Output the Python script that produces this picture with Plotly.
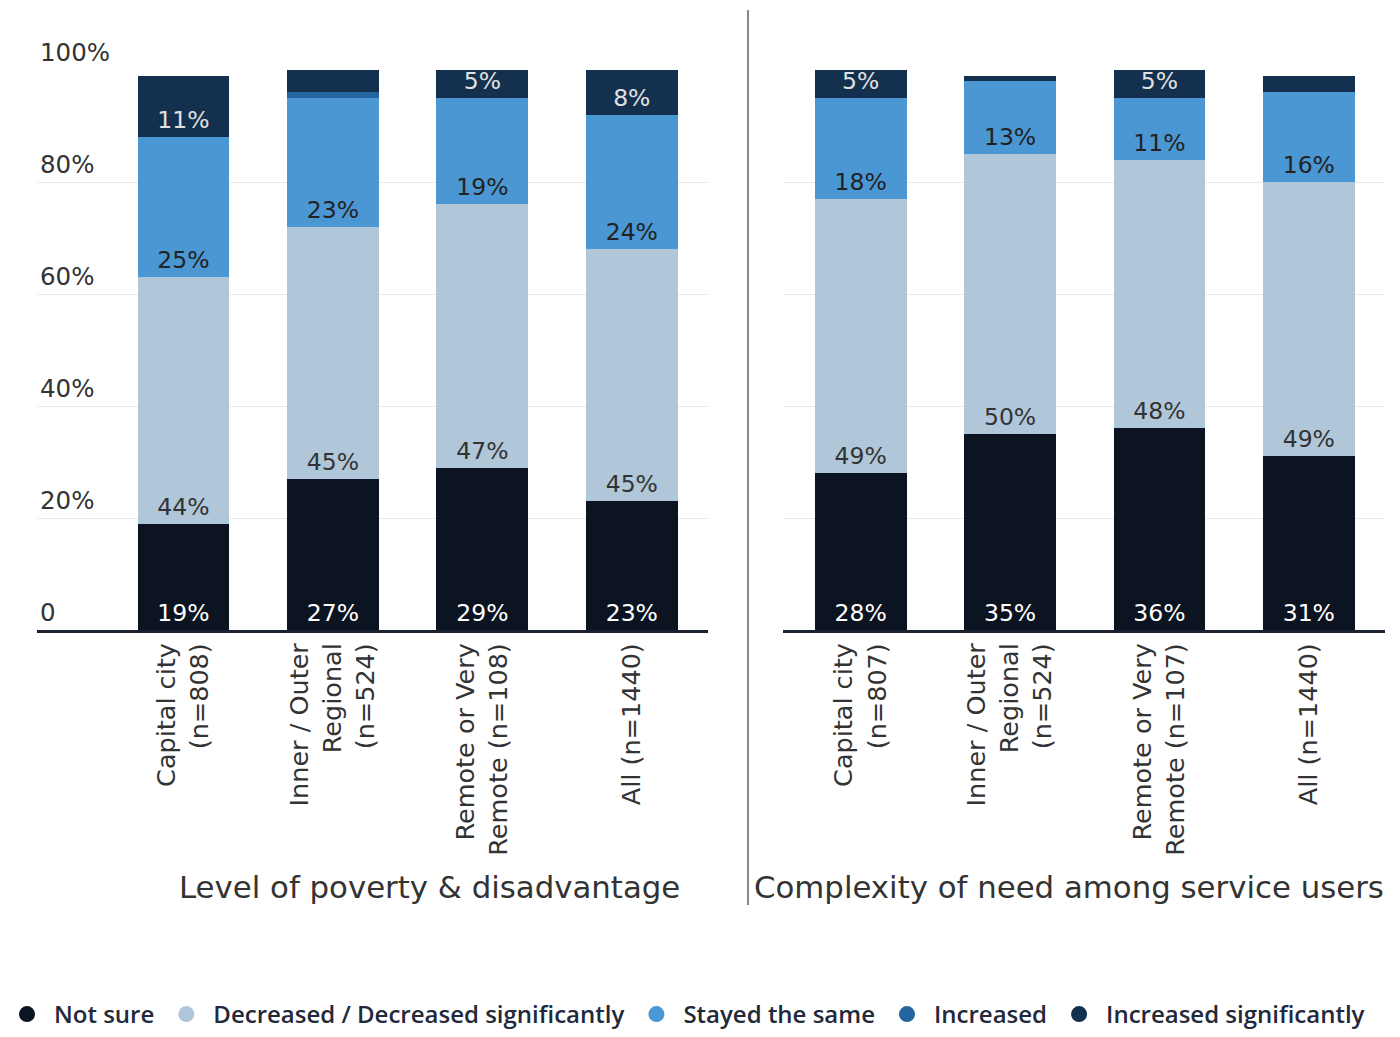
import plotly.graph_objects as go

# Categories for each panel
poverty_cats = ["Capital city<br>(n=808)", "Inner / Outer<br>Regional<br>(n=524)",
                "Remote or Very<br>Remote (n=108)", "All (n=1440)"]
complexity_cats = ["Capital city<br>(n=807)", "Inner / Outer<br>Regional<br>(n=524)",
                   "Remote or Very<br>Remote (n=107)", "All (n=1440)"]

# Series values (%) - Level of poverty & disadvantage
pov_not_sure = [19, 27, 29, 23]
pov_decreased = [44, 45, 47, 45]
pov_same = [25, 23, 19, 24]
pov_increased = [0, 1, 0, 0]
pov_inc_sig = [11, 4, 5, 8]

# Series values (%) - Complexity of need among service users
cx_not_sure = [28, 35, 36, 31]
cx_decreased = [49, 50, 48, 49]
cx_same = [18, 13, 11, 16]
cx_increased = [0, 0, 0, 0]
cx_inc_sig = [5, 1, 5, 3]

series_names = ["Not sure", "Decreased / Decreased significantly", "Stayed the same",
                "Increased", "Increased significantly"]
colors = ["#0b1420", "#b0c7da", "#4b97d3", "#25659f", "#13314f"]
label_colors = ["#ffffff", "#333333", "#222222", "#e6e6e6", "#e0e0e0"]
min_label = [1, 1, 1, 99, 5]  # hide labels on thin slivers

ytick_vals = [0, 20, 40, 60, 80, 100]
ytick_text = ["0", "20%", "40%", "60%", "80%", "100%"]

FONT = "DejaVu Sans"

fig = go.Figure()

panels = [
    (poverty_cats, [pov_not_sure, pov_decreased, pov_same, pov_increased, pov_inc_sig], "x", "y"),
    (complexity_cats, [cx_not_sure, cx_decreased, cx_same, cx_increased, cx_inc_sig], "x2", "y2"),
]

for cats, series, xa, ya in panels:
    for i, vals in enumerate(series):
        texts = [f"{v}%" if v >= min_label[i] else "" for v in vals]
        fig.add_trace(go.Bar(
            x=cats, y=vals, name=series_names[i], xaxis=xa, yaxis=ya,
            marker=dict(color=colors[i], line=dict(width=0)),
            width=0.615, text=texts, textposition="inside", insidetextanchor="start",
            textangle=0, cliponaxis=False,
            insidetextfont=dict(family=FONT, size=23.5, color=label_colors[i]),
            showlegend=False, hoverinfo="skip",
        ))

# Legend entries with round markers
for i, name in enumerate(series_names):
    fig.add_trace(go.Scatter(
        x=[None], y=[None], mode="markers", name=name,
        marker=dict(symbol="circle", size=22, color=colors[i]),
        xaxis="x", yaxis="y", showlegend=True,
    ))

xaxis_common = dict(
    type="category", showgrid=False, showline=True, linecolor="#1a2230", linewidth=3,
    tickangle=-90, ticks="", automargin=False,
    tickfont=dict(family=FONT, size=25.5, color="#333333"), zeroline=False,
)
yaxis_common = dict(
    range=[0, 100], tickvals=ytick_vals, ticktext=ytick_text, showgrid=True,
    gridcolor="#e8e8e8", gridwidth=1, zeroline=False, showline=False, automargin=False,
    tickfont=dict(family=FONT, size=24.5, color="#333333"),
)

H = 1037.0
W = 1400.0
y_dom = [1 - 630 / H, 1 - 70 / H]

fig.update_layout(
    width=1400, height=1037,
    margin=dict(l=0, r=0, t=0, b=0),
    paper_bgcolor="white", plot_bgcolor="white",
    barmode="stack",
    uniformtext=dict(minsize=23.5, mode="show"),
    font=dict(family=FONT, color="#333333"),
    xaxis=dict(**xaxis_common, domain=[37 / W, 708 / W], range=[-0.98, 3.51], anchor="y"),
    yaxis=dict(**yaxis_common, domain=y_dom, anchor="x",
               ticklabelposition="inside top", ticklabeloverflow="allow",
               showticklabels=True),
    xaxis2=dict(**xaxis_common, domain=[783 / W, 1385 / W], range=[-0.52, 3.51], anchor="y2"),
    yaxis2=dict(**yaxis_common, domain=y_dom, anchor="x2", showticklabels=False),
    legend=dict(orientation="h", traceorder="normal", x=0.0, xanchor="left",
                y=0.0, yanchor="bottom", itemwidth=44,
                font=dict(family="Open Sans", size=24, color="#22293a", weight=600),
                itemsizing="trace", tracegroupgap=0, bgcolor="rgba(0,0,0,0)"),
    showlegend=True,
)

# Panel titles
fig.add_annotation(text="Level of poverty & disadvantage", xref="paper", yref="paper",
                   x=429 / W, y=1 - 887 / H, xanchor="center", yanchor="middle",
                   showarrow=False, font=dict(family=FONT, size=30.8, color="#333333"))
fig.add_annotation(text="Complexity of need among service users", xref="paper", yref="paper",
                   x=1069 / W, y=1 - 887 / H, xanchor="center", yanchor="middle",
                   showarrow=False, font=dict(family=FONT, size=30.8, color="#333333"))

# Divider between the two panels
fig.add_shape(type="line", xref="paper", yref="paper",
              x0=748 / W, x1=748 / W, y0=1 - 905 / H, y1=1 - 10 / H,
              line=dict(color="#8a8a8a", width=2))

fig.write_html("out.html")
